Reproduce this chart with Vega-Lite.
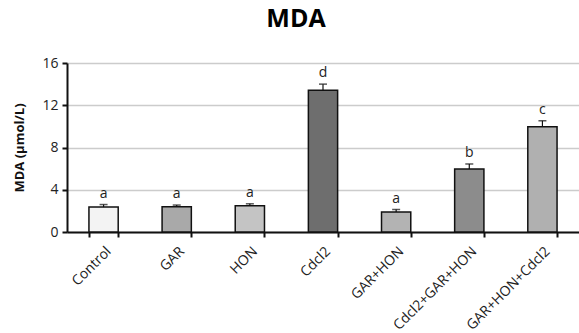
{
  "$schema": "https://vega.github.io/schema/vega-lite/v6.json",
  "width": 512,
  "height": 169,
  "autosize": {"type": "none"},
  "padding": {"left": 67, "top": 63, "right": 0, "bottom": 101},
  "background": "white",
  "title": {"text": "MDA", "fontSize": 25, "fontWeight": "bold", "font": "Open Sans", "color": "#000000", "anchor": "middle", "dx": -27, "offset": 24, "frame": "group"},
  "config": {"view": {"stroke": null}, "font": "Open Sans"},
  "data": {"values": [
    {"group": "Control", "mean": 2.36, "err": 2.6, "sig": "a", "shade": "#f3f3f3"},
    {"group": "GAR", "mean": 2.39, "err": 2.55, "sig": "a", "shade": "#a9a9a9"},
    {"group": "HON", "mean": 2.48, "err": 2.67, "sig": "a", "shade": "#c4c4c4"},
    {"group": "Cdcl2", "mean": 13.42, "err": 14.0, "sig": "d", "shade": "#6e6e6e"},
    {"group": "GAR+HON", "mean": 1.89, "err": 2.13, "sig": "a", "shade": "#b3b3b3"},
    {"group": "Cdcl2+GAR+HON", "mean": 5.97, "err": 6.44, "sig": "b", "shade": "#8c8c8c"},
    {"group": "GAR+HON+Cdcl2", "mean": 9.96, "err": 10.53, "sig": "c", "shade": "#b0b0b0"}
  ]},
  "encoding": {
    "x": {
      "field": "group", "type": "nominal", "sort": null,
      "scale": {"paddingInner": 0.6, "paddingOuter": 0.3},
      "axis": {
        "title": null, "labelAngle": -45, "labelFontSize": 14, "labelColor": "#222222",
        "labelFont": "Open Sans", "labelPadding": 7,
        "tickBand": "extent", "tickSize": 5, "tickWidth": 2, "tickColor": "#111111",
        "domainColor": "#111111", "domainWidth": 2, "grid": false
      }
    }
  },
  "layer": [
    {
      "mark": {"type": "bar", "stroke": "#111111", "strokeWidth": 1.5},
      "encoding": {
        "y": {
          "field": "mean", "type": "quantitative",
          "scale": {"domain": [0, 16]},
          "axis": {
            "title": "MDA (µmol/L)", "titleFontSize": 13, "titleFontWeight": "bold", "titleColor": "#111111",
            "titleFont": "Open Sans", "titlePadding": 15,
            "values": [0, 4, 8, 12, 16], "labelFontSize": 14, "labelColor": "#222222", "labelFont": "Open Sans",
            "labelPadding": 4,
            "tickSize": 5, "tickWidth": 2, "tickColor": "#111111",
            "domainColor": "#111111", "domainWidth": 2,
            "grid": true, "gridColor": "#cccccc", "gridWidth": 1.5
          }
        },
        "fill": {"field": "shade", "type": "nominal", "scale": null}
      }
    },
    {
      "mark": {"type": "rule", "stroke": "#111111", "strokeWidth": 1.2},
      "encoding": {
        "y": {"field": "mean", "type": "quantitative"},
        "y2": {"field": "err"}
      }
    },
    {
      "mark": {"type": "tick", "color": "#111111", "size": 8, "thickness": 1.5},
      "encoding": {
        "y": {"field": "err", "type": "quantitative"}
      }
    },
    {
      "mark": {"type": "text", "fontSize": 14, "font": "Open Sans", "color": "#222222", "baseline": "alphabetic", "dy": -7},
      "encoding": {
        "y": {"field": "err", "type": "quantitative"},
        "text": {"field": "sig"}
      }
    }
  ]
}
